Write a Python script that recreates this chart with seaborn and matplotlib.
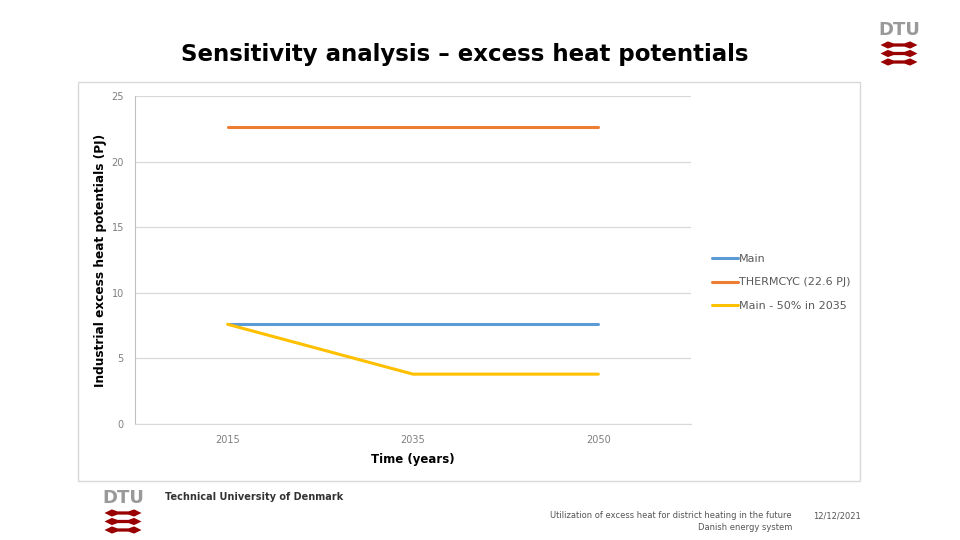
import pandas as pd
import numpy as np
import matplotlib
matplotlib.use("Agg")
import matplotlib.pyplot as plt
import seaborn as sns
from matplotlib.patches import Rectangle, Polygon

# Dados
anos = ["2015", "2035", "2050"]
main = [7.6, 7.6, 7.6]
thermcyc = [22.6, 22.6, 22.6]
main_50 = [7.6, 3.8, 3.8]
nomes = ["Main", "THERMCYC (22.6 PJ)", "Main - 50% in 2035"]
cores = ["#5B9BD5", "#ED7D31", "#FFC000"]

df = pd.DataFrame({
    "pos": list(range(len(anos))) * 3,
    "valor": main + thermcyc + main_50,
    "serie": [nomes[0]] * 3 + [nomes[1]] * 3 + [nomes[2]] * 3,
})

sns.set_style("white")
plt.rcParams["font.family"] = ["DejaVu Sans"]

W, H = 960, 540
fig = plt.figure(figsize=(9.6, 5.4), dpi=100)


def px(x, y):
    return (x / W, 1 - y / H)


def logo_dtu(cx, ytop):
    # texto DTU + tres faixas vermelhas
    fig.text(*px(cx, ytop), "DTU", ha="center", va="top", color="#999999",
             fontsize=13, fontweight="bold", family="DejaVu Sans Condensed")
    for k in range(3):
        yc = ytop + 24 + 8.5 * k
        w = 18.5
        h = 3.6
        pts = [(cx - w, yc), (cx - w * 0.6, yc - h), (cx - w * 0.3, yc - h * 0.45),
               (cx + w * 0.3, yc - h * 0.45), (cx + w * 0.6, yc - h), (cx + w, yc),
               (cx + w * 0.6, yc + h), (cx + w * 0.3, yc + h * 0.45),
               (cx - w * 0.3, yc + h * 0.45), (cx - w * 0.6, yc + h)]
        fig.patches.append(Polygon([px(a, b) for a, b in pts], closed=True,
                                   transform=fig.transFigure, color="#990000", lw=0))


# Moldura do grafico
x0, y0 = px(78, 481)
x1, y1 = px(860, 82)
fig.patches.append(Rectangle((x0, y0), x1 - x0, y1 - y0, transform=fig.transFigure,
                             fill=False, edgecolor="#d9d9d9", lw=1))

ax = fig.add_axes([135 / W, 1 - 424 / H, (691 - 135) / W, (424 - 96) / H])
sns.lineplot(data=df, x="pos", y="valor", hue="serie", palette=cores, lw=2.2, ax=ax)

ax.set_xlim(-0.5, 2.5)
ax.set_ylim(0, 25)
ax.set_yticks(range(0, 26, 5))
ax.set_xticks(range(len(anos)))
ax.set_xticklabels(anos)
ax.tick_params(axis="both", labelsize=7, colors="#7f7f7f", length=0, pad=8)
ax.yaxis.grid(True, color="#d9d9d9", lw=0.9)
ax.xaxis.grid(False)
for s in ["top", "right"]:
    ax.spines[s].set_visible(False)
ax.spines["left"].set_color("#bfbfbf")
ax.spines["bottom"].set_color("#d9d9d9")
ax.set_ylabel("Industrial excess heat potentials (PJ)", fontsize=8.7, fontweight="bold",
              color="black", labelpad=3)
ax.set_xlabel("Time (years)", fontsize=8.5, fontweight="bold", color="black", labelpad=6)

ax.legend(loc="upper left", bbox_to_anchor=(1.02, 0.55), frameon=False, fontsize=8,
          handlelength=2.3, handletextpad=0.15, labelspacing=1.25, labelcolor="#595959")

# Titulo
fig.text(*px(465, 54), "Sensitivity analysis \u2013 excess heat potentials", ha="center",
         va="center", fontsize=16.5, fontweight="bold", color="black")

# Logos e rodape
logo_dtu(899, 21)
logo_dtu(123, 489)
fig.text(*px(165, 497), "Technical University of Denmark", ha="left", va="center",
         fontsize=7, fontweight="bold", color="#333333")
fig.text(*px(792, 516), "Utilization of excess heat for district heating in the future",
         ha="right", va="center", fontsize=6, color="#555555")
fig.text(*px(792, 527), "Danish energy system", ha="right", va="center", fontsize=6,
         color="#555555")
fig.text(*px(813, 516), "12/12/2021", ha="left", va="center", fontsize=6, color="#555555")

fig.savefig("out.png", dpi=100)
